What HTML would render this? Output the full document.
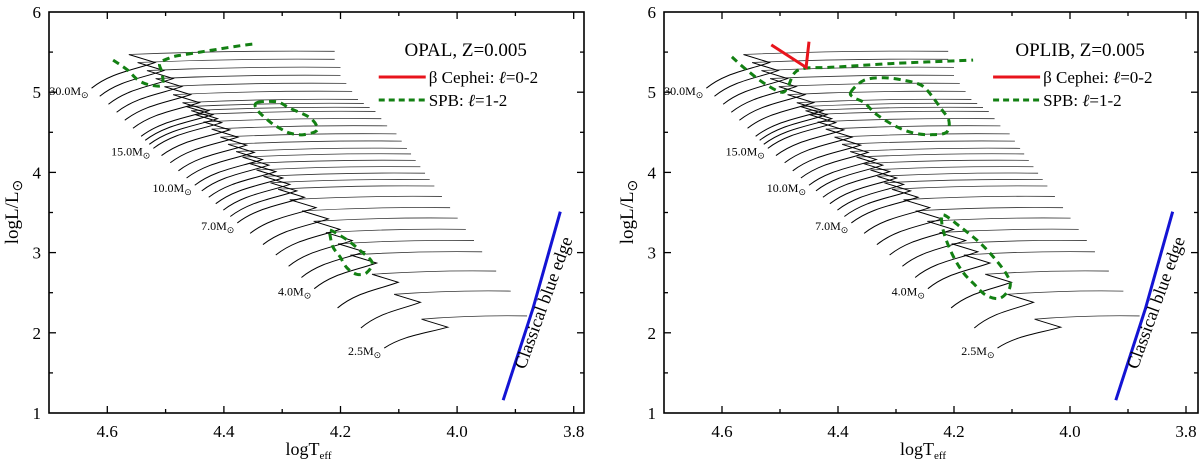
<!DOCTYPE html>
<html><head><meta charset="utf-8"><style>
body{margin:0;background:#fff;}
svg{display:block;font-family:"Liberation Serif",serif;}
</style></head><body>
<svg id="c" width="1200" height="467" viewBox="0 0 1200 467"></svg>
<script>
// Track data (per model mass)
const masses = ["2.5","3","3.5","4","4.5","5","5.5","6","6.5","7","7.5","8","8.5","9","9.5","10","11","12","13","14","15","16","17","18","20","22","24","26","28","30"];
const zamsT = [4.125,4.165,4.205,4.245,4.267,4.289,4.311,4.333,4.355,4.377,4.389,4.401,4.414,4.426,4.438,4.45,4.464,4.478,4.492,4.507,4.521,4.528,4.535,4.542,4.556,4.570,4.584,4.598,4.613,4.627];
const zamsL = [1.81,2.06,2.31,2.55,2.69,2.83,2.97,3.10,3.24,3.37,3.45,3.53,3.61,3.69,3.77,3.84,3.93,4.02,4.12,4.21,4.30,4.35,4.40,4.45,4.55,4.65,4.75,4.85,4.95,5.05];
const hookT = [4.016,4.063,4.101,4.138,4.159,4.180,4.201,4.221,4.242,4.262,4.275,4.287,4.299,4.311,4.323,4.334,4.348,4.361,4.376,4.390,4.404,4.411,4.419,4.426,4.442,4.457,4.472,4.487,4.503,4.518];
const hookL = [2.07,2.38,2.63,2.87,3.01,3.15,3.29,3.42,3.56,3.69,3.77,3.85,3.93,4.01,4.09,4.16,4.25,4.34,4.44,4.53,4.62,4.67,4.72,4.77,4.87,4.97,5.07,5.17,5.27,5.37];
const endT = [3.88,3.908,3.933,3.957,3.971,3.985,3.999,4.012,4.026,4.039,4.047,4.055,4.063,4.071,4.079,4.086,4.095,4.104,4.12,4.13,4.14,4.15,4.16,4.17,4.18,4.19,4.20,4.20,4.21,4.21];
const labelMasses = ["30.0","15.0","10.0","7.0","4.0","2.5"];
const labelIdx = [29,20,15,9,3,0];
const xTicks = [4.6,4.4,4.2,4.0,3.8];
const yTicks = [1,2,3,4,5,6];
// Instability strips (logT, logL)
const opalSpbTopT = [4.590,4.566,4.547,4.527,4.506,4.506,4.510,4.492,4.475,4.441,4.407,4.372,4.350];
const opalSpbTopL = [5.40,5.28,5.15,5.09,5.09,5.24,5.36,5.43,5.46,5.50,5.54,5.58,5.60];
const opalSpbMidT = [4.343,4.309,4.287,4.252,4.240,4.264,4.287,4.304,4.321,4.343];
const opalSpbMidL = [4.87,4.88,4.80,4.68,4.53,4.47,4.49,4.55,4.63,4.78];
const opalSpbLowT = [4.218,4.189,4.167,4.146,4.155,4.172,4.189,4.201,4.213,4.218];
const opalSpbLowL = [3.28,3.16,3.03,2.88,2.75,2.73,2.81,2.95,3.07,3.22];
const oplibBcepT = [4.515,4.455,4.450];
const oplibBcepL = [5.59,5.31,5.63];
const oplibSpbTopT = [4.583,4.558,4.527,4.498,4.487,4.475,4.455,4.412,4.299,4.167];
const oplibSpbTopL = [5.44,5.28,5.11,5.00,5.06,5.24,5.30,5.31,5.36,5.40];
const oplibSpbMidT = [4.378,4.355,4.321,4.287,4.257,4.240,4.223,4.209,4.213,4.240,4.269,4.299,4.333,4.355,4.372];
const oplibSpbMidL = [5.00,5.15,5.18,5.15,5.09,4.97,4.80,4.65,4.50,4.47,4.49,4.57,4.72,4.87,4.93];
const oplibSpbLowT = [4.218,4.189,4.155,4.128,4.107,4.104,4.121,4.145,4.167,4.184,4.201,4.215,4.221];
const oplibSpbLowL = [3.47,3.32,3.12,2.91,2.70,2.56,2.43,2.47,2.62,2.75,2.95,3.19,3.37];
const blueT = [3.921,3.870,3.823];
const blueL = [1.16,2.30,3.51];

const NS='http://www.w3.org/2000/svg';
const svg=document.getElementById('c');
function mk(tag,attrs,parent){const e=document.createElementNS(NS,tag);for(const k in attrs)e.setAttribute(k,attrs[k]);(parent||svg).appendChild(e);return e;}

function crPath(xs,ys,closed){
  const n=xs.length;let d='M'+xs[0].toFixed(1)+','+ys[0].toFixed(1);
  const P=i=>closed?[xs[(i+n)%n],ys[(i+n)%n]]:[xs[Math.max(0,Math.min(n-1,i))],ys[Math.max(0,Math.min(n-1,i))]];
  const last=closed?n:n-1;
  for(let i=0;i<last;i++){
    const p0=P(i-1),p1=P(i),p2=P(i+1),p3=P(i+2);
    const c1=[p1[0]+(p2[0]-p0[0])/6,p1[1]+(p2[1]-p0[1])/6];
    const c2=[p2[0]-(p3[0]-p1[0])/6,p2[1]-(p3[1]-p1[1])/6];
    d+=' C'+c1[0].toFixed(1)+','+c1[1].toFixed(1)+' '+c2[0].toFixed(1)+','+c2[1].toFixed(1)+' '+p2[0].toFixed(1)+','+p2[1].toFixed(1);
  }
  return d;
}

function panel(px0,pxR,scale,title,name,strips,bcep){
  const g=mk('g',{});
  
  
  const X=t=>px0+(4.7-t)*scale;
  const Y=l=>12+(6-l)*80.2;
  const top=12,bot=413;
  for(let i=0;i<masses.length;i++){
    const tz=zamsT[i],lz=zamsL[i],th=hookT[i],lh=hookL[i];
    const dT=tz-th,dL=lh-lz;
    const d='M'+X(tz)+','+Y(lz)+' C'+X(tz-0.3*dT)+','+Y(lz+0.6*dL)+' '+X(th+0.35*dT)+','+Y(lh-0.3*dL)+' '+X(th)+','+Y(lh)
      +' L'+X(th+0.045)+','+Y(lh+0.1);
    const ms=mk('path',{d:d,fill:'none',stroke:'#000','stroke-width':1.0},g);
    
    
    const hx=X(th+0.045),hy=Y(lh+0.1),ex=X(endT[i]),ey=Y(lh+0.14);
    const hz=mk('path',{d:'M'+hx+','+hy+' Q'+((hx+ex)/2)+','+(ey-1)+' '+ex+','+ey,fill:'none',stroke:'#333','stroke-width':0.8},g);
    
    
  }
  for(let k=0;k<labelMasses.length;k++){
    const i=labelIdx[k];
    const t=mk('text',{x:X(zamsT[i])-3,y:Y(zamsL[i])+7,'font-size':12,'text-anchor':'end',fill:'#000'},g);
    
    
    t.innerHTML=labelMasses[k]+'M<tspan font-size="9" dy="3">⊙</tspan>';
  }
  strips.forEach(s=>{
    const p=mk('path',{d:crPath(s[0].map(X),s[1].map(Y),s[2]),fill:'none',stroke:'#138013','stroke-width':3,'stroke-dasharray':'7,5'},g);
    
    
  });
  if(bcep){
    const p=mk('path',{d:'M'+bcep[0].map((t,j)=>X(t)+','+Y(bcep[1][j])).join(' L'),fill:'none',stroke:'#e8141c','stroke-width':3},g);
    
    
  }
  const b=mk('path',{d:'M'+blueT.map((t,j)=>X(t)+','+Y(blueL[j])).join(' L'),fill:'none',stroke:'#1414d4','stroke-width':3},g);
  
  
  const bx=X(3.865),by=Y(2.35);
  const bt=mk('text',{x:bx+13,y:by,'font-size':18,'text-anchor':'middle',transform:'rotate(-70 '+(bx+13)+' '+by+')'},g);
  
  
  bt.textContent='Classical blue edge';
  const f=mk('rect',{x:px0,y:top,width:pxR-px0,height:bot-top,fill:'none',stroke:'#000','stroke-width':1.6},g);
  
  
  for(let t=4.7;t>3.77;t-=0.1){
    const tt=Math.round(t*10)/10;const x=X(tt);if(x<=px0+1||x>=pxR-1)continue;
    const major=Math.abs(Math.round(tt*5)-tt*5)<1e-6;const len=major?7:4;
    mk('line',{x1:x,y1:bot,x2:x,y2:bot-len,stroke:'#000','stroke-width':1.3},g);
    mk('line',{x1:x,y1:top,x2:x,y2:top+len,stroke:'#000','stroke-width':1.3},g);
  }
  xTicks.forEach(t=>{
    const tx=mk('text',{x:X(t),y:437,'font-size':17,'text-anchor':'middle'},g);
    
    
    tx.textContent=t.toFixed(1);
  });
  for(let l=1.5;l<6;l+=0.5){
    const y=Y(l);const len=(l%1===0)?7:4;
    mk('line',{x1:px0,y1:y,x2:px0+len,y2:y,stroke:'#000','stroke-width':1.3},g);
    mk('line',{x1:pxR,y1:y,x2:pxR-len,y2:y,stroke:'#000','stroke-width':1.3},g);
  }
  yTicks.forEach(l=>{
    const ty=mk('text',{x:px0-8,y:Y(l)+6,'font-size':17,'text-anchor':'end'},g);
    
    
    ty.textContent=l;
  });
  const xl=mk('text',{x:(px0+pxR)/2-8,y:455,'font-size':18,'text-anchor':'middle'},g);
  
  
  xl.innerHTML='logT<tspan font-size="11" dy="4">eff</tspan>';
  const yx=px0-31,yy=212;
  const yl=mk('text',{x:yx,y:yy,'font-size':19,'text-anchor':'middle',transform:'rotate(-90 '+yx+' '+yy+')'},g);
  
  
  yl.innerHTML='logL/L<tspan font-size="14" dy="4">⊙</tspan>';
  const lx=px0+(pxR-px0)*0.635;
  const tl=mk('text',{x:lx+77,y:56,'font-size':19,'text-anchor':'middle'},g);
  
  
  tl.textContent=title;
  const l1=mk('line',{x1:lx-10,y1:77,x2:lx+37,y2:77,stroke:'#e8141c','stroke-width':3},g);
  
  
  const t1=mk('text',{x:lx+40,y:83,'font-size':17},g);
  
  
  t1.innerHTML='β Cephei: <tspan font-style="italic">ℓ</tspan>=0-2';
  const l2=mk('line',{x1:lx-10,y1:100,x2:lx+37,y2:100,stroke:'#138013','stroke-width':3,'stroke-dasharray':'6,4'},g);
  
  
  const t2=mk('text',{x:lx+40,y:106,'font-size':17},g);
  
  
  t2.innerHTML='SPB: <tspan font-style="italic">ℓ</tspan>=1-2';
}
panel(49,584,583,'OPAL, Z=0.005','panel-opal',[
  [opalSpbTopT,opalSpbTopL,false,'spb-strip-top'],
  [opalSpbMidT,opalSpbMidL,true,'spb-strip-mid'],
  [opalSpbLowT,opalSpbLowL,true,'spb-strip-low']],null);
panel(664,1198,580,'OPLIB, Z=0.005','panel-oplib',[
  [oplibSpbTopT,oplibSpbTopL,false,'spb-strip-top'],
  [oplibSpbMidT,oplibSpbMidL,true,'spb-strip-mid'],
  [oplibSpbLowT,oplibSpbLowL,true,'spb-strip-low']],[oplibBcepT,oplibBcepL]);
</script>
</body></html>
